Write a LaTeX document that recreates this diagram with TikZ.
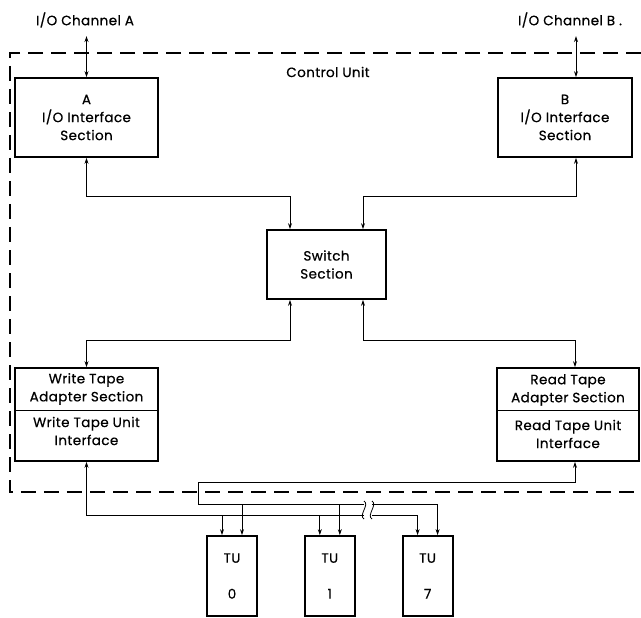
\documentclass[tikz,border=0pt]{standalone}
\usepackage{fontspec}
\setmainfont{Poppins}[FakeBold=0.6, LetterSpace=3]
\usetikzlibrary{
  arrows.meta,
  positioning
}
\tikzset{
  >={Stealth[length=6pt,width=4pt]},
  node distance = 46pt,
  txt/.style = {align=center},
  unit/.style = {draw, line width=1.8pt, align=center},
  tape/.style = {unit, minimum width=50pt, minimum height=80pt},
  link/.style = {line width=0.8pt},
}

\begin{document}
\begin{tikzpicture}[x=1pt, y=-1pt, font=\fontsize{13.5}{18}\selectfont]
  \useasboundingbox (0,0) rectangle (641,618);
  % control unit boundary
  \draw[line width=1.2pt, dash pattern=on 15pt off 8pt] (641,53) -| (10,492) -- (641,492);
  \node[txt] (cu) at (328,72) {Control Unit};
  \node[txt] (cha) at (85,20) {I/O Channel A};
  \node[txt] (chb) at (570,20) {I/O Channel B .};

  \node[unit, minimum width=143pt, minimum height=79pt] (a) at (86.5,117.5) {A\\I/O Interface\\Section};
  \node[unit, minimum width=134pt, minimum height=79pt] (b) at (565,117.5) {B\\I/O Interface\\Section};
  \node[unit, minimum width=119pt, minimum height=69pt] (sw) at (326.5,264.5) {Switch\\Section};
  \node[unit, minimum width=143pt, minimum height=93pt] (wr) at (86.5,414.5) {};
  \node[unit, minimum width=142pt, minimum height=93pt] (rd) at (568,414.5) {};
  \draw[link] (wr.west |- 0,410) -- (wr.east |- 0,410);
  \draw[link] (rd.west |- 0,410) -- (rd.east |- 0,410);
  \node[txt] (wra) at (86.5,389) {Write Tape\\Adapter Section};
  \node[txt] (wri) at (86.5,431) {Write Tape Unit\\Interface};
  \node[txt] (rda) at (568,390) {Read Tape\\Adapter Section};
  \node[txt] (rdi) at (568,434) {Read Tape Unit\\Interface};

  \node[tape] (tu0) at (232,576) {TU\\[18pt]0};
  \node[tape, right=of tu0] (tu1) {TU\\[18pt]1};
  \node[tape, right=of tu1] (tu7) {TU\\[18pt]7};

  \coordinate (bn) at ([xshift=11pt]b.north);
  \coordinate (bs) at ([xshift=11pt]b.south);
  \coordinate (rn) at ([xshift=7pt]rd.north);
  \coordinate (rs) at ([xshift=7pt]rd.south);
  \coordinate (bus) at (198,482);
  \coordinate (bl) at (364,510);
  \coordinate (br) at (372,510);

  % channels
  \draw[link, <->, shorten >=5pt] (a.north) -- (a.north |- cha.south);
  \draw[link, <->, shorten >=5pt] (bn) -- (bn |- chb.south);
  % switch
  \draw[link, <->] (a.south) -- ++(0,38) -| ([xshift=-36.5pt]sw.north);
  \draw[link, <->] (bs) -- ++(0,38) -| ([xshift=36.5pt]sw.north);
  \draw[link, <->] ([xshift=-36.5pt]sw.south) -- ++(0,40) -| (wr.north);
  \draw[link, <->] ([xshift=36.5pt]sw.south) -- ++(0,40) -| (rn);
  % tape bus
  \draw[link, <-] (rs) |- (bus) |- (bl |- 0,504);
  \draw[link, ->] (br |- 0,504) -| ([xshift=10pt]tu7.north);
  \draw[link, <-] (wr.south) |- (bl |- 0,515);
  \draw[link, ->] (br |- 0,515) -| ([xshift=-10pt]tu7.north);
  \foreach \t in {tu0,tu1} {
    \draw[link, ->] ([xshift=-10pt]\t.north |- 0,515) -- ([xshift=-10pt]\t.north);
    \draw[link, ->] ([xshift=10pt]\t.north |- 0,504) -- ([xshift=10pt]\t.north);
  }
  \foreach \d in {bl,br}
    \draw[link] ([yshift=9pt]\d) to[out=-30, in=150] ([yshift=-9pt]\d);
\end{tikzpicture}
\end{document}
